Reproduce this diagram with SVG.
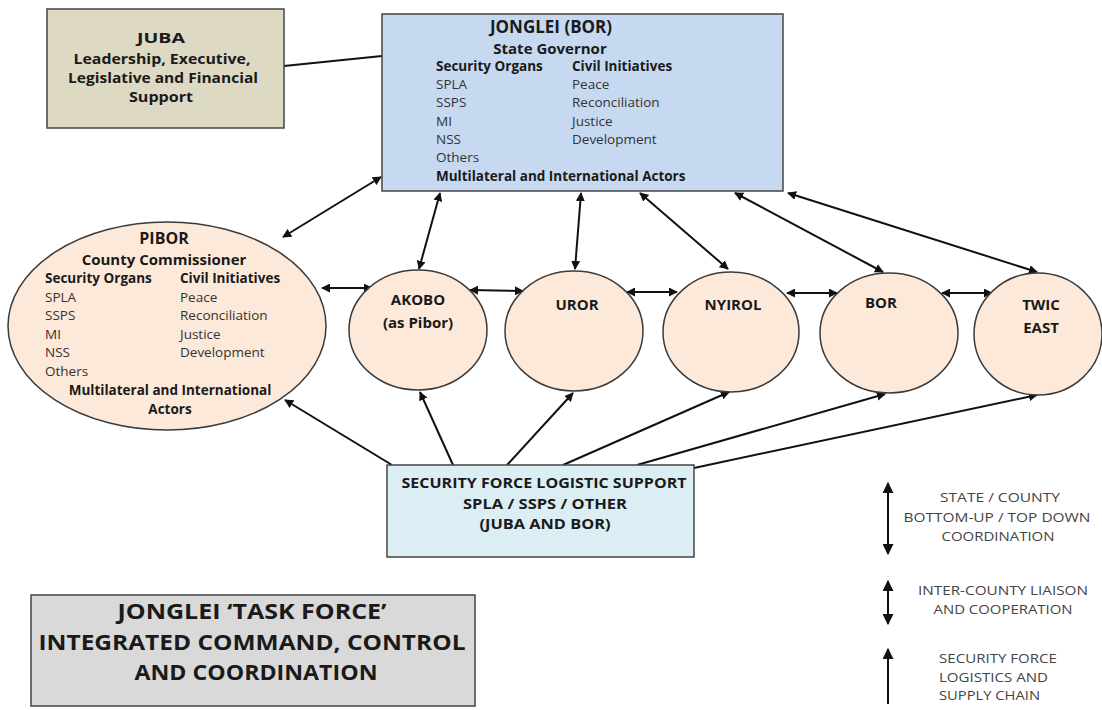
<svg xmlns="http://www.w3.org/2000/svg" width="1102" height="710" viewBox="0 0 1102 710">
<defs>
<marker id="ah" viewBox="0 0 10 10" refX="9" refY="5" markerWidth="9" markerHeight="9" markerUnits="userSpaceOnUse" orient="auto-start-reverse">
<path d="M0,0 L10,5 L0,10 z" fill="#111"/>
</marker>
<marker id="ahl" viewBox="0 0 10 10" refX="9" refY="5" markerWidth="11" markerHeight="11" markerUnits="userSpaceOnUse" orient="auto-start-reverse">
<path d="M0,0 L10,5 L0,10 z" fill="#111"/>
</marker>
<style>
.t{font-family:"Open Sans","Liberation Sans",sans-serif;fill:#1a1a1a}
.b{font-weight:bold}
.r{font-size:13.5px;fill:#333}
.h{font-size:13.5px;font-weight:bold;fill:#1a1a1a}
.node{fill:#fde9d9;stroke:#3a3a3a;stroke-width:1.5}
.box{stroke:#444;stroke-width:1.5}
.c{stroke:#111;stroke-width:2;fill:none}
.bi{marker-start:url(#ah);marker-end:url(#ah)}
.one{marker-end:url(#ah)}
.lbi{marker-start:url(#ahl);marker-end:url(#ahl)}
.lone{marker-end:url(#ahl)}
.lg{font-family:"Open Sans","Liberation Sans",sans-serif;font-size:12.5px;fill:#444}
</style>
</defs>
<rect width="1102" height="710" fill="#fff"/>

<g id="connectors">
<line class="c" x1="284" y1="66" x2="382" y2="56"/>
<line class="c bi" x1="381" y1="177" x2="283" y2="237"/>
<line class="c bi" x1="440" y1="193" x2="419" y2="269"/>
<line class="c bi" x1="581" y1="193" x2="575" y2="269"/>
<line class="c bi" x1="640" y1="193" x2="728" y2="269"/>
<line class="c bi" x1="735" y1="193" x2="883" y2="272"/>
<line class="c bi" x1="788" y1="193" x2="1037" y2="272"/>
<line class="c bi" x1="322" y1="288" x2="372" y2="288"/>
<line class="c bi" x1="470" y1="290" x2="523" y2="291"/>
<line class="c bi" x1="627" y1="292" x2="677" y2="292"/>
<line class="c bi" x1="787" y1="293" x2="837" y2="293"/>
<line class="c bi" x1="942" y1="293" x2="992" y2="293"/>
<line class="c one" x1="392" y1="465" x2="285" y2="400"/>
<line class="c one" x1="453" y1="465" x2="420" y2="392"/>
<line class="c one" x1="507" y1="465" x2="573" y2="393"/>
<line class="c one" x1="563" y1="465" x2="729" y2="392"/>
<line class="c one" x1="637" y1="465" x2="885" y2="394"/>
<line class="c one" x1="694" y1="468" x2="1037" y2="395"/>
</g>

<g id="juba">
<rect class="box" x="47" y="9" width="237" height="119" fill="#ddd9c3"/>
<text class="t b" x="161" y="43" text-anchor="middle" font-size="15" textLength="48" lengthAdjust="spacingAndGlyphs">JUBA</text>
<text class="t b" x="162" y="64" text-anchor="middle" font-size="14" fill="#2a2a2a" textLength="177" lengthAdjust="spacingAndGlyphs">Leadership, Executive,</text>
<text class="t b" x="163" y="83" text-anchor="middle" font-size="14" fill="#2a2a2a" textLength="190" lengthAdjust="spacingAndGlyphs">Legislative and Financial</text>
<text class="t b" x="161" y="102" text-anchor="middle" font-size="14" fill="#2a2a2a" textLength="64" lengthAdjust="spacingAndGlyphs">Support</text>
</g>

<g id="jonglei">
<rect class="box" x="382" y="14" width="401" height="177" fill="#c6d9f1"/>
<text class="t b" x="551" y="33" text-anchor="middle" font-size="17">JONGLEI (BOR)</text>
<text class="t b" x="550" y="54" text-anchor="middle" font-size="15">State Governor</text>
<text class="t h" x="436" y="71">Security Organs</text>
<text class="t h" x="572" y="71">Civil Initiatives</text>
<text class="t r" x="436" y="89">SPLA</text>
<text class="t r" x="436" y="107">SSPS</text>
<text class="t r" x="436" y="126">MI</text>
<text class="t r" x="436" y="144">NSS</text>
<text class="t r" x="436" y="162">Others</text>
<text class="t r" x="572" y="89">Peace</text>
<text class="t r" x="572" y="107">Reconciliation</text>
<text class="t r" x="572" y="126">Justice</text>
<text class="t r" x="572" y="144">Development</text>
<text class="t h" x="436" y="181">Multilateral and International Actors</text>
</g>

<g id="pibor">
<ellipse class="node" cx="167" cy="326" rx="159" ry="104"/>
<text class="t b" x="164" y="244" text-anchor="middle" font-size="16">PIBOR</text>
<text class="t b" x="164" y="265" text-anchor="middle" font-size="15">County Commissioner</text>
<text class="t h" x="45" y="283">Security Organs</text>
<text class="t h" x="180" y="283">Civil Initiatives</text>
<text class="t r" x="45" y="302">SPLA</text>
<text class="t r" x="45" y="320">SSPS</text>
<text class="t r" x="45" y="339">MI</text>
<text class="t r" x="45" y="357">NSS</text>
<text class="t r" x="45" y="376">Others</text>
<text class="t r" x="180" y="302">Peace</text>
<text class="t r" x="180" y="320">Reconciliation</text>
<text class="t r" x="180" y="339">Justice</text>
<text class="t r" x="180" y="357">Development</text>
<text class="t h" x="170" y="395" text-anchor="middle">Multilateral and International</text>
<text class="t h" x="170" y="414" text-anchor="middle">Actors</text>
</g>

<g id="akobo">
<ellipse class="node" cx="418" cy="330" rx="69" ry="60"/>
<text class="t b" x="418" y="305" text-anchor="middle" font-size="15">AKOBO</text>
<text class="t b" x="418" y="328" text-anchor="middle" font-size="15">(as Pibor)</text>
</g>

<g id="uror">
<ellipse class="node" cx="574" cy="331" rx="69" ry="60"/>
<text class="t b" x="577" y="310" text-anchor="middle" font-size="15">UROR</text>
</g>

<g id="nyirol">
<ellipse class="node" cx="731" cy="332" rx="68" ry="60"/>
<text class="t b" x="733" y="310" text-anchor="middle" font-size="15">NYIROL</text>
</g>

<g id="bor">
<ellipse class="node" cx="889" cy="333" rx="69" ry="60"/>
<text class="t b" x="881" y="308" text-anchor="middle" font-size="15">BOR</text>
</g>

<g id="twic-east">
<ellipse class="node" cx="1038" cy="334" rx="64" ry="61"/>
<text class="t b" x="1041" y="310" text-anchor="middle" font-size="15">TWIC</text>
<text class="t b" x="1041" y="333" text-anchor="middle" font-size="15">EAST</text>
</g>

<g id="security-force">
<rect class="box" x="387" y="465" width="307" height="92" fill="#dbeef4"/>
<text class="t b" x="544" y="488" text-anchor="middle" font-size="14" fill="#2b2b2b" textLength="285" lengthAdjust="spacingAndGlyphs">SECURITY FORCE LOGISTIC SUPPORT</text>
<text class="t b" x="545" y="509" text-anchor="middle" font-size="14" fill="#2b2b2b" textLength="164" lengthAdjust="spacingAndGlyphs">SPLA / SSPS / OTHER</text>
<text class="t b" x="545" y="529" text-anchor="middle" font-size="14" fill="#2b2b2b" textLength="131" lengthAdjust="spacingAndGlyphs">(JUBA AND BOR)</text>
</g>

<g id="task-force">
<rect class="box" x="31" y="595" width="444" height="111" fill="#d9d9d9"/>
<text class="t b" x="252" y="619" text-anchor="middle" font-size="21" textLength="269" lengthAdjust="spacingAndGlyphs">JONGLEI ‘TASK FORCE’</text>
<text class="t b" x="252" y="650" text-anchor="middle" font-size="21" textLength="427" lengthAdjust="spacingAndGlyphs">INTEGRATED COMMAND, CONTROL</text>
<text class="t b" x="256" y="680" text-anchor="middle" font-size="21" textLength="243" lengthAdjust="spacingAndGlyphs">AND COORDINATION</text>
</g>

<g id="legend">
<line class="c lbi" x1="888" y1="483" x2="888" y2="554"/>
<text class="lg" x="1000" y="502" text-anchor="middle" textLength="120" lengthAdjust="spacingAndGlyphs">STATE / COUNTY</text>
<text class="lg" x="997" y="522" text-anchor="middle" textLength="187" lengthAdjust="spacingAndGlyphs">BOTTOM-UP / TOP DOWN</text>
<text class="lg" x="998" y="541" text-anchor="middle" textLength="113" lengthAdjust="spacingAndGlyphs">COORDINATION</text>
<line class="c lbi" x1="888" y1="581" x2="888" y2="624"/>
<text class="lg" x="1003" y="595" text-anchor="middle" textLength="170" lengthAdjust="spacingAndGlyphs">INTER-COUNTY LIAISON</text>
<text class="lg" x="1003" y="614" text-anchor="middle" textLength="139" lengthAdjust="spacingAndGlyphs">AND COOPERATION</text>
<line class="c lone" x1="888" y1="704" x2="888" y2="649"/>
<text class="lg" x="939" y="663" textLength="118" lengthAdjust="spacingAndGlyphs">SECURITY FORCE</text>
<text class="lg" x="939" y="682" textLength="109" lengthAdjust="spacingAndGlyphs">LOGISTICS AND</text>
<text class="lg" x="939" y="700" textLength="101" lengthAdjust="spacingAndGlyphs">SUPPLY CHAIN</text>
</g>
</svg>
